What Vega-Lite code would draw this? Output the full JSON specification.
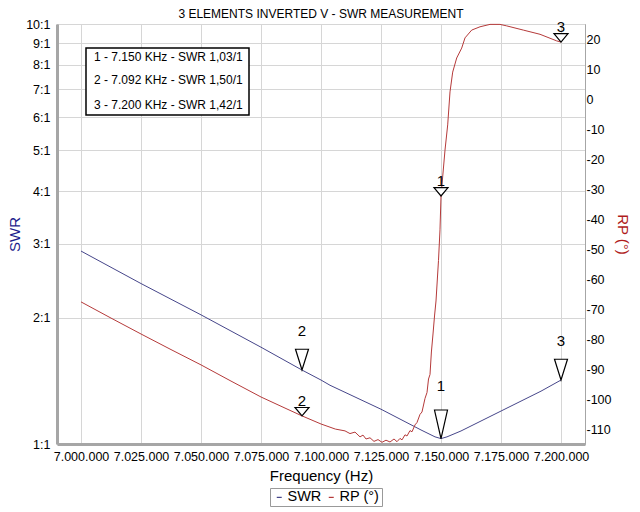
{
  "$schema": "https://vega.github.io/schema/vega-lite/v6.json",
  "width": 528,
  "height": 420,
  "autosize": {"type": "none"},
  "padding": {"left": 57, "top": 24, "right": 55, "bottom": 68},
  "background": "white",
  "title": {"text": "3 ELEMENTS INVERTED V - SWR MEASUREMENT", "fontSize": 12, "fontWeight": "normal", "color": "black", "offset": -3, "anchor": "middle", "font": "Liberation Sans"},
  "datasets": {
    "swr": [
      {"f": 7000000, "swr": 2.88}, {"f": 7025000, "swr": 2.41}, {"f": 7050000, "swr": 2.03}, {"f": 7075000, "swr": 1.70},
      {"f": 7092083, "swr": 1.50}, {"f": 7100000, "swr": 1.42}, {"f": 7103750, "swr": 1.38}, {"f": 7125000, "swr": 1.21},
      {"f": 7141667, "swr": 1.08}, {"f": 7147500, "swr": 1.04}, {"f": 7150000, "swr": 1.03}, {"f": 7152500, "swr": 1.04},
      {"f": 7158333, "swr": 1.074}, {"f": 7175000, "swr": 1.198}, {"f": 7191667, "swr": 1.336}, {"f": 7200000, "swr": 1.42}
    ],
    "rp": [
      {"f": 7000000, "rp": -67.3}, {"f": 7012500, "rp": -72.7}, {"f": 7025000, "rp": -78.0}, {"f": 7037500, "rp": -83.2},
      {"f": 7050000, "rp": -88.3}, {"f": 7062500, "rp": -93.7}, {"f": 7075000, "rp": -99.0}, {"f": 7085000, "rp": -102.7},
      {"f": 7092083, "rp": -105.3}, {"f": 7100000, "rp": -108.0}, {"f": 7106000, "rp": -109.7}, {"f": 7110000, "rp": -110.3},
      {"f": 7112083, "rp": -111.2}, {"f": 7114167, "rp": -110.7}, {"f": 7116250, "rp": -112.3}, {"f": 7117500, "rp": -111.7},
      {"f": 7118750, "rp": -113.0}, {"f": 7120417, "rp": -112.6}, {"f": 7122083, "rp": -113.8}, {"f": 7123750, "rp": -113.2},
      {"f": 7125417, "rp": -114.1}, {"f": 7127083, "rp": -113.4}, {"f": 7128750, "rp": -114.0}, {"f": 7130417, "rp": -113.0},
      {"f": 7131667, "rp": -113.9}, {"f": 7132917, "rp": -112.8}, {"f": 7133750, "rp": -113.3}, {"f": 7135000, "rp": -111.6},
      {"f": 7135833, "rp": -112.0}, {"f": 7137083, "rp": -110.2}, {"f": 7137917, "rp": -110.6}, {"f": 7139167, "rp": -108.3},
      {"f": 7140000, "rp": -107.5}, {"f": 7141250, "rp": -104.8}, {"f": 7142083, "rp": -104.0}, {"f": 7143333, "rp": -99.5},
      {"f": 7144167, "rp": -97.5}, {"f": 7144800, "rp": -93.0}, {"f": 7145417, "rp": -91.5}, {"f": 7146000, "rp": -84.0},
      {"f": 7146667, "rp": -78.0}, {"f": 7147300, "rp": -72.0}, {"f": 7147917, "rp": -67.0}, {"f": 7148958, "rp": -53.5},
      {"f": 7149583, "rp": -43.3}, {"f": 7150000, "rp": -32.0}, {"f": 7151667, "rp": -16.7}, {"f": 7152792, "rp": -8.3},
      {"f": 7153750, "rp": 2.7}, {"f": 7154875, "rp": 9.3}, {"f": 7156542, "rp": 14.0}, {"f": 7158625, "rp": 17.3},
      {"f": 7160000, "rp": 20.7}, {"f": 7162792, "rp": 23.3}, {"f": 7166250, "rp": 24.4}, {"f": 7170417, "rp": 25.2},
      {"f": 7174583, "rp": 25.2}, {"f": 7177375, "rp": 24.7}, {"f": 7184292, "rp": 23.3}, {"f": 7191250, "rp": 21.9},
      {"f": 7198208, "rp": 19.7}, {"f": 7200000, "rp": 19.3}
    ],
    "markers": [
      {"id": "1", "f": 7150000, "swr": 1.03, "rp": -32.0},
      {"id": "2", "f": 7092083, "swr": 1.50, "rp": -105.3},
      {"id": "3", "f": 7200000, "swr": 1.42, "rp": 19.3}
    ],
    "notes": [
      {"f": 7005417, "s": 8.35, "t": "1 - 7.150 KHz - SWR 1,03/1"},
      {"f": 7005417, "s": 7.36, "t": "2 - 7.092 KHz - SWR 1,50/1"},
      {"f": 7005417, "s": 6.41, "t": "3 - 7.200 KHz - SWR 1,42/1"}
    ],
    "box": [{"f1": 7002083, "f2": 7070000, "s1": 8.77, "s2": 6.07}]
  },
  "layer": [
    {
      "layer": [
        {
          "data": {"name": "swr"},
          "mark": {"type": "line", "strokeWidth": 1},
          "encoding": {
            "x": {"field": "f", "type": "quantitative", "title": "Frequency (Hz)",
              "scale": {"domain": [6990000, 7210000], "nice": false, "zero": false},
              "axis": {"values": [7000000, 7025000, 7050000, 7075000, 7100000, 7125000, 7150000, 7175000, 7200000], "format": ",.0f", "labelOverlap": false, "labelFlush": false}},
            "y": {"field": "swr", "type": "quantitative", "title": "SWR",
              "scale": {"type": "log", "domain": [1, 10], "nice": false},
              "axis": {"values": [1, 2, 3, 4, 5, 6, 7, 8, 9, 10], "labelExpr": "datum.value + ':1'", "labelOverlap": false, "orient": "left"}},
            "color": {"datum": "SWR", "type": "nominal",
              "scale": {"domain": ["SWR", "RP (°)"], "range": ["#46468a", "#b53a3a"]},
              "legend": {"orient": "none", "legendX": 213, "legendY": 464, "direction": "horizontal", "title": null,
                "symbolType": "stroke", "symbolSize": 25, "symbolStrokeWidth": 1.2, "labelFontSize": 14.5, "labelOffset": 1,
                "columnPadding": 2, "padding": 2, "strokeColor": "#999999", "fillColor": "white", "labelColor": "black",
                "encode": {"symbols": {"update": {"stroke": {"value": "#8c8c8c"}}}}}}
          }
        },
        {
          "data": {"name": "box"},
          "mark": {"type": "rect", "fill": "white", "stroke": "black", "strokeWidth": 1.5},
          "encoding": {
            "x": {"field": "f1", "type": "quantitative", "title": "Frequency (Hz)"},
            "x2": {"field": "f2"},
            "y": {"field": "s1", "type": "quantitative", "title": "SWR"},
            "y2": {"field": "s2"}
          }
        },
        {
          "data": {"name": "notes"},
          "mark": {"type": "text", "align": "left", "baseline": "middle", "fontSize": 12, "color": "black"},
          "encoding": {
            "x": {"field": "f", "type": "quantitative", "title": "Frequency (Hz)"},
            "y": {"field": "s", "type": "quantitative", "title": "SWR"},
            "text": {"field": "t"}
          }
        },
        {
          "data": {"name": "markers"},
          "transform": [{"filter": "datum.id != '1'"}],
          "mark": {"type": "point", "shape": "M-1,-3.2L1,-3.2L0,0Z", "size": 169, "filled": true, "fill": "white", "stroke": "black", "strokeWidth": 1.2, "opacity": 1},
          "encoding": {
            "x": {"field": "f", "type": "quantitative", "title": "Frequency (Hz)"},
            "y": {"field": "swr", "type": "quantitative", "title": "SWR"}
          }
        },
        {
          "data": {"name": "markers"},
          "transform": [{"filter": "datum.id == '1'"}],
          "mark": {"type": "point", "shape": "M-1,-4.4L1,-4.4L0,0Z", "size": 169, "filled": true, "fill": "white", "stroke": "black", "strokeWidth": 1.2, "opacity": 1},
          "encoding": {
            "x": {"field": "f", "type": "quantitative", "title": "Frequency (Hz)"},
            "y": {"field": "swr", "type": "quantitative", "title": "SWR"}
          }
        },
        {
          "data": {"name": "markers"},
          "transform": [{"filter": "datum.id != '1'"}],
          "mark": {"type": "text", "dy": -39, "fontSize": 15, "color": "black", "baseline": "middle"},
          "encoding": {
            "x": {"field": "f", "type": "quantitative", "title": "Frequency (Hz)"},
            "y": {"field": "swr", "type": "quantitative", "title": "SWR"},
            "text": {"field": "id"}
          }
        },
        {
          "data": {"name": "markers"},
          "transform": [{"filter": "datum.id == '1'"}],
          "mark": {"type": "text", "dy": -53, "fontSize": 15, "color": "black", "baseline": "middle"},
          "encoding": {
            "x": {"field": "f", "type": "quantitative", "title": "Frequency (Hz)"},
            "y": {"field": "swr", "type": "quantitative", "title": "SWR"},
            "text": {"field": "id"}
          }
        }
      ]
    },
    {
      "layer": [
        {
          "data": {"name": "rp"},
          "mark": {"type": "line", "strokeWidth": 1},
          "encoding": {
            "x": {"field": "f", "type": "quantitative", "title": "Frequency (Hz)"},
            "y": {"field": "rp", "type": "quantitative", "title": "RP (°)",
              "scale": {"domain": [-114.67, 25.33], "nice": false, "zero": false},
              "axis": {"values": [-110, -100, -90, -80, -70, -60, -50, -40, -30, -20, -10, 0, 10, 20], "labelExpr": "datum.value < 0 ? '-' + abs(datum.value) : '' + datum.value", "orient": "right", "grid": false, "labelOverlap": false, "tickCount": 14}},
            "color": {"datum": "RP (°)", "type": "nominal"}
          }
        },
        {
          "data": {"name": "markers"},
          "mark": {"type": "point", "shape": "M-1,-1.2L1,-1.2L0,0Z", "size": 196, "filled": true, "fill": "white", "stroke": "black", "strokeWidth": 1.2, "opacity": 1},
          "encoding": {
            "x": {"field": "f", "type": "quantitative", "title": "Frequency (Hz)"},
            "y": {"field": "rp", "type": "quantitative", "title": "RP (°)", "axis": {"values": [-110, -100, -90, -80, -70, -60, -50, -40, -30, -20, -10, 0, 10, 20], "labelExpr": "datum.value < 0 ? '-' + abs(datum.value) : '' + datum.value", "orient": "right", "grid": false, "labelOverlap": false, "tickCount": 14}}
          }
        },
        {
          "data": {"name": "markers"},
          "mark": {"type": "text", "dy": -15, "fontSize": 15, "color": "black", "baseline": "middle"},
          "encoding": {
            "x": {"field": "f", "type": "quantitative", "title": "Frequency (Hz)"},
            "y": {"field": "rp", "type": "quantitative", "title": "RP (°)", "axis": {"values": [-110, -100, -90, -80, -70, -60, -50, -40, -30, -20, -10, 0, 10, 20], "labelExpr": "datum.value < 0 ? '-' + abs(datum.value) : '' + datum.value", "orient": "right", "grid": false, "labelOverlap": false, "tickCount": 14}},
            "text": {"field": "id"}
          }
        }
      ]
    }
  ],
  "resolve": {"scale": {"y": "independent"}},
  "config": {
    "font": "Liberation Sans",
    "locale": {"number": {"decimal": ",", "thousands": ".", "grouping": [3], "currency": ["", ""], "minus": "-"}},
    "view": {"stroke": "#a6a6a6", "strokeWidth": 1},
    "axis": {"labelFontSize": 12.5, "labelColor": "black", "titleFontSize": 15, "titleFontWeight": "normal", "ticks": false,
      "labelOverlap": false,
      "gridColor": "#d6d6d6", "gridWidth": 1, "domainColor": "#a6a6a6", "labelFont": "Liberation Sans", "titleFont": "Liberation Sans"},
    "axisBottom": {"domainWidth": 3, "labelPadding": 6, "titleColor": "black", "titlePadding": 6, "grid": true},
    "axisLeft": {"domainWidth": 3, "labelPadding": 7, "titleColor": "#1c1c8c", "titlePadding": 3, "grid": true},
    "axisRight": {"labelPadding": 1, "titleColor": "#b01c1c", "titlePadding": 3, "grid": false, "domainWidth": 1, "labelOverlap": false}
  }
}
